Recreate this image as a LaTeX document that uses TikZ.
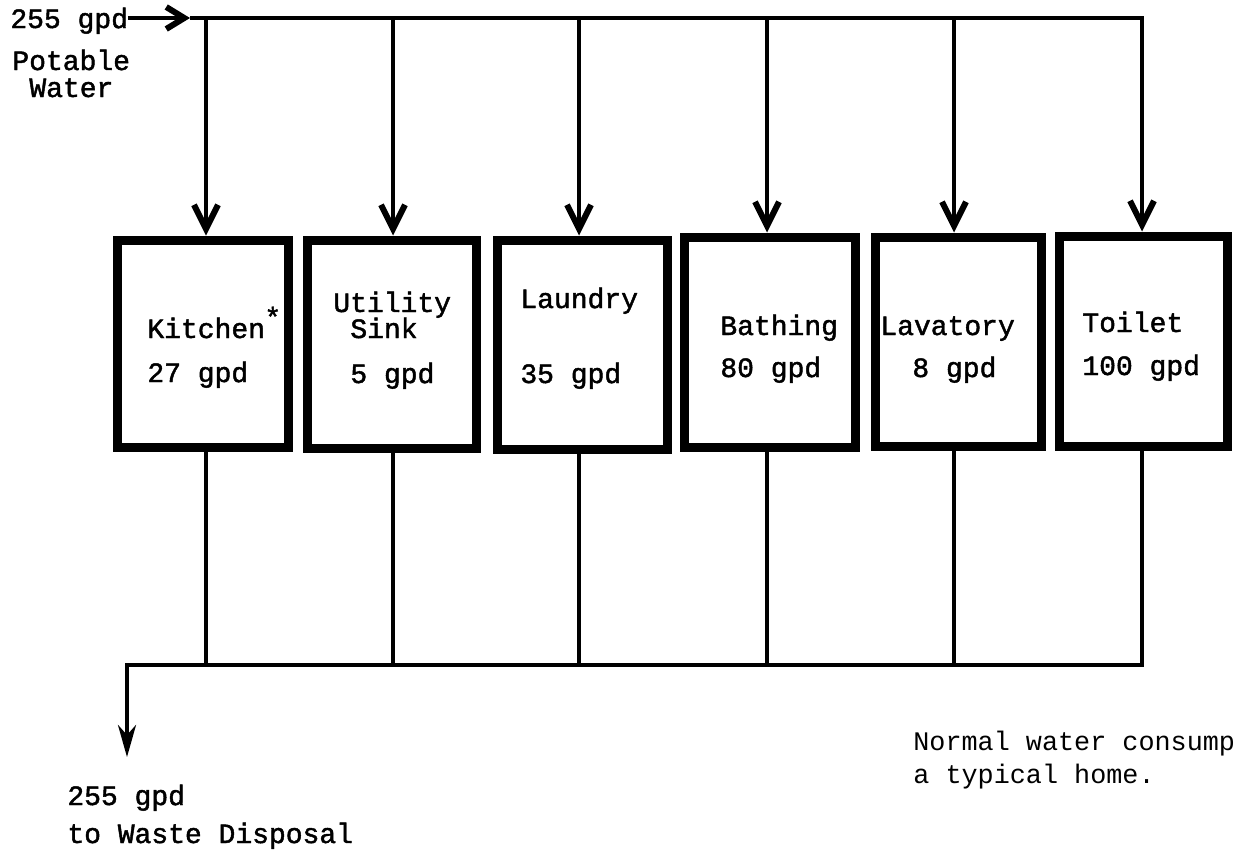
\documentclass[tikz,border=0pt]{standalone}
\usepackage{fontspec}
\setmonofont{Liberation Mono}
\newfontfamily\typew{Liberation Mono}[BoldFont=Liberation Mono, BoldFeatures={FakeBold=1.6}]
\usetikzlibrary{arrows.meta,fit}
\begin{document}
\begin{tikzpicture}[x=0.5pt,y=-0.5pt,
  lbl/.style={font=\typew\bfseries\fontsize{14}{11.5}\selectfont, inner sep=0pt, anchor=base west},
  note/.style={font=\ttfamily\fontsize{13.4}{15}\selectfont, inner sep=0pt, anchor=base west},
  box/.style={draw, line width=4.5pt, inner sep=0pt},
  pipe/.style={line width=2.2pt, line join=miter},
  flow/.style={pipe, -{Straight Barb[length=12pt,width=12pt,line width=3pt]}},
  inflow/.style={pipe, -{Straight Barb[length=9pt,width=11pt,line width=3pt]}},
  outflow/.style={pipe, -{Stealth[length=16pt,width=9pt,inset=5pt]}}
]
\useasboundingbox (0,0) rectangle (1236,853);

% boxes
\node[box, fit={(117,240) (288,447)}] (k) {};
\node[box, fit={(307,240) (476,448)}] (u) {};
\node[box, fit={(497,240) (667,449)}] (l) {};
\node[box, fit={(684,237) (855,447)}] (b) {};
\node[box, fit={(875,237) (1041,446)}] (v) {};
\node[box, fit={(1059,236) (1227,446)}] (t) {};

% labels
\node[lbl] (in) at (10,28) {255 gpd};
\node[lbl] (pot) at (12,70) {Potable};
\node[lbl] (wat) at (29,97) {Water};

\node[lbl] (kn) at (147,338) {Kitchen};
\node[lbl] (ks) at (264,327) {*};
\node[lbl] (kq) at (147,382) {27 gpd};
\node[lbl] (un1) at (333,312) {Utility};
\node[lbl] (un2) at (350,338) {Sink};
\node[lbl] (uq) at (350,383) {5 gpd};
\node[lbl] (ln) at (520,308) {Laundry};
\node[lbl] (lq) at (520,383) {35 gpd};
\node[lbl] (bn) at (720,335) {Bathing};
\node[lbl] (bq) at (720,377) {80 gpd};
\node[lbl] (vn) at (880,335) {Lavatory};
\node[lbl] (vq) at (912,377) {8 gpd};
\node[lbl] (tn) at (1082,332) {Toilet};
\node[lbl] (tq) at (1082,375) {100 gpd};

\node[lbl] (oq) at (67,805) {255 gpd};
\node[lbl] (od) at (67,843) {to Waste Disposal};

\node[note] (n1) at (913,750) {Normal water consump};
\node[note] (n2) at (913,783) {a typical home.};

% top supply line
\coordinate (a0) at (190,18);
\coordinate (tr) at (1142,18);
\coordinate (t1) at (206,18);
\coordinate (t2) at (393,18);
\coordinate (t3) at (579,18);
\coordinate (t4) at (767,18);
\coordinate (t5) at (954,18);
\draw[inflow] (in.east |- a0) -- (a0);
\draw[flow] (a0) -- (tr) -- (tr |- t.north);
\draw[flow] (t1) -- (t1 |- k.north);
\draw[flow] (t2) -- (t2 |- u.north);
\draw[flow] (t3) -- (t3 |- l.north);
\draw[flow] (t4) -- (t4 |- b.north);
\draw[flow] (t5) -- (t5 |- v.north);

% bottom drain line
\coordinate (br) at (1142,665);
\coordinate (bl) at (127,665);
\coordinate (out) at (127,757);
\draw[outflow] (tr |- t.south) -- (br) -- (bl) -- (out);
\draw[pipe] (t1 |- k.south) -- (t1 |- br);
\draw[pipe] (t2 |- u.south) -- (t2 |- br);
\draw[pipe] (t3 |- l.south) -- (t3 |- br);
\draw[pipe] (t4 |- b.south) -- (t4 |- br);
\draw[pipe] (t5 |- v.south) -- (t5 |- br);
\end{tikzpicture}
\end{document}
